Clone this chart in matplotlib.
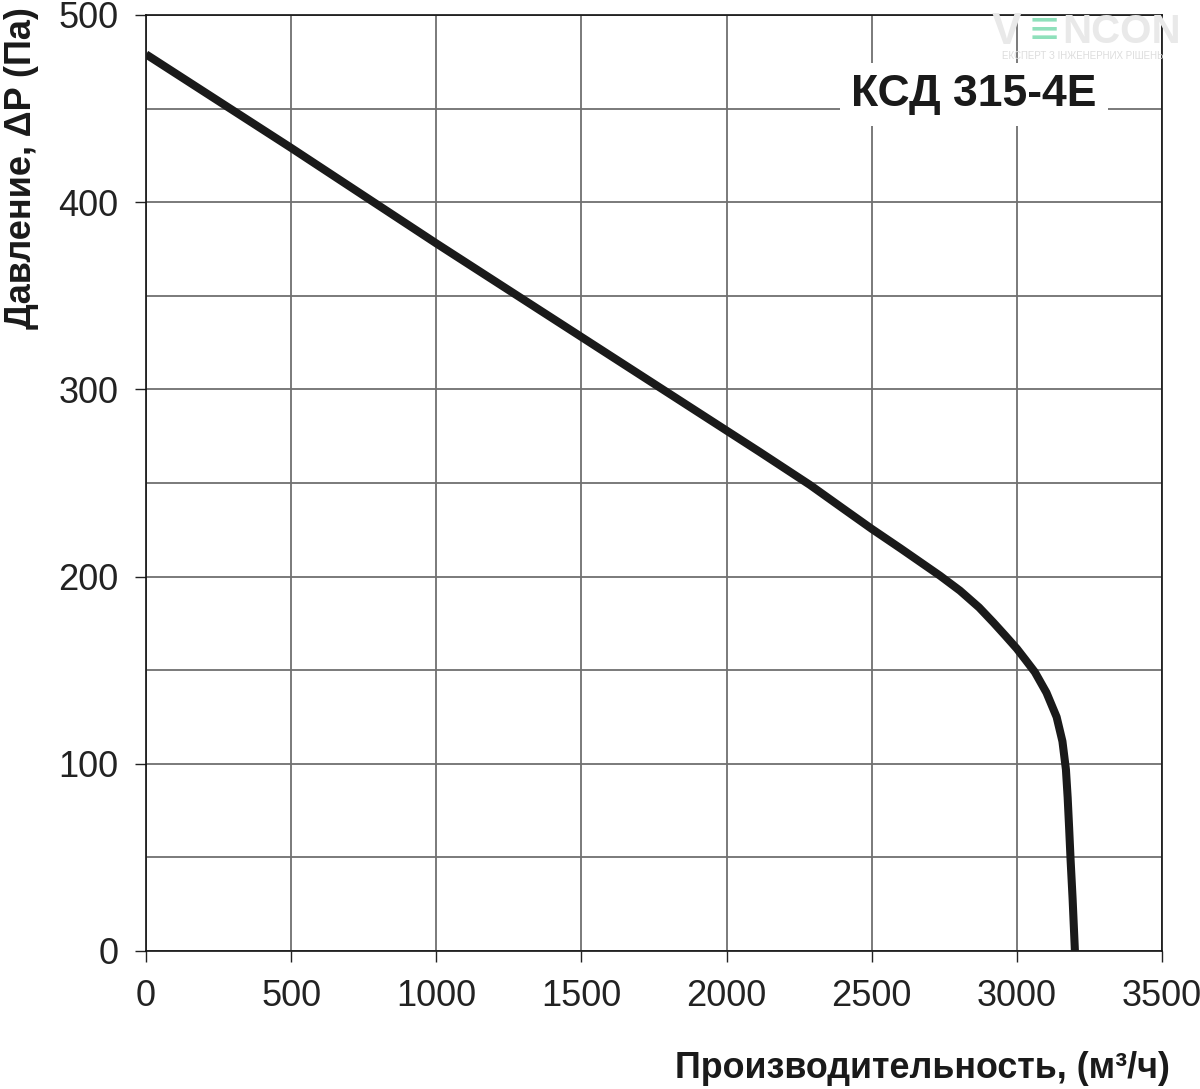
import numpy as np
import matplotlib.pyplot as plt
from matplotlib.ticker import MultipleLocator

plt.rcParams['font.family'] = ['Liberation Sans', 'DejaVu Sans']

# Fan curve (flow m3/h, pressure Pa)
flow = [0, 500, 1000, 1500, 2000, 2115, 2287, 2400, 2500, 2600, 2735, 2804,
        2870, 2919, 2960, 3000, 3030, 3062, 3102, 3137, 3157, 3169, 3175,
        3180, 3185, 3192, 3200]
pressure = [479, 429, 378, 328, 278, 266.5, 249, 236.5, 225.5, 215, 200.5, 192.5,
            183.5, 175.5, 168.5, 161.5, 155.5, 149, 138, 125, 112, 97, 82,
            66, 49, 28, 0]

model = 'КСД 315-4E'
xlabel = 'Производительность, (м³/ч)'
ylabel = 'Давление, ΔP (Па)'

fig = plt.figure(figsize=(12, 10.89), dpi=100, facecolor='white')
ax = fig.add_axes([146/1200, 1 - 951/1089, (1162 - 146)/1200, (951 - 15)/1089])

ax.plot(flow, pressure, color='#1a1a1a', lw=5.8, solid_capstyle='butt',
        solid_joinstyle='round', zorder=3)

ax.set_xlim(0, 3500)
ax.set_ylim(0, 500)
ax.xaxis.set_major_locator(MultipleLocator(500))
ax.yaxis.set_major_locator(MultipleLocator(100))
ax.yaxis.set_minor_locator(MultipleLocator(50))
ax.grid(True, which='both', color='#707070', lw=1.3, zorder=1)
ax.tick_params(which='major', direction='out', length=8, width=1, color='#222222',
               labelsize=26, labelcolor='#222222')
ax.tick_params(axis='x', pad=12)
ax.tick_params(axis='y', pad=12)
ax.tick_params(which='minor', length=0)
for s in ax.spines.values():
    s.set_color('#111111')
    s.set_linewidth(1.2)
ax.set_axisbelow(True)

# model name box
ax.text(0.815, 0.915, model, transform=ax.transAxes, ha='center', va='center',
        fontsize=32, fontweight='bold', color='#1a1a1a', zorder=5,
        bbox=dict(facecolor='white', edgecolor='none', pad=8))

# axis titles
fig.text(1170/1200, 1 - 1068/1089, xlabel, ha='right', va='center',
         fontsize=25.8, fontweight='bold', color='#1a1a1a')
fig.text(22/1200, 1 - 168/1089, ylabel, ha='center', va='center', rotation=90,
         fontsize=26, fontweight='bold', color='#1a1a1a')

# faint watermark
wm = '#e9e9e9'
fig.text(992/1200, 1 - 32/1089, 'V', ha='left', va='center', fontsize=32,
         fontweight='bold', color=wm, zorder=10)
fig.text(1030/1200, 1 - 32/1089, '≡', ha='left', va='center', fontsize=36,
         fontweight='bold', color='#8fe0bb', zorder=10)
fig.text(1062/1200, 1 - 32/1089, 'NCON', ha='left', va='center', fontsize=29,
         fontweight='bold', color=wm, zorder=10)
fig.text(1083/1200, 1 - 56/1089, 'ЕКСПЕРТ З ІНЖЕНЕРНИХ РІШЕНЬ', ha='center',
         va='center', fontsize=7, color='#dddddd', zorder=10)

fig.savefig('out.png', dpi=100, facecolor='white')
